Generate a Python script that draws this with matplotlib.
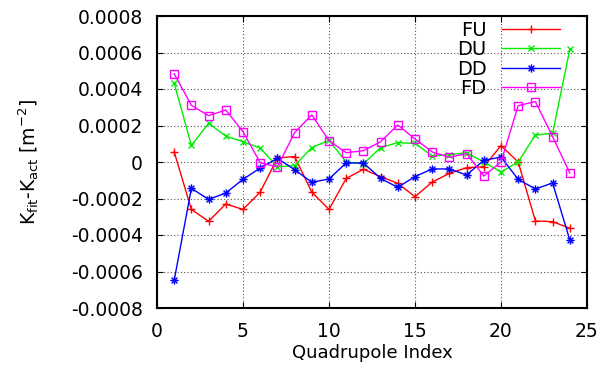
import matplotlib
matplotlib.use("Agg")
import matplotlib.pyplot as plt
from matplotlib.path import Path
import numpy as np

plt.rcParams['font.family'] = ['DejaVu Sans']

idx = list(range(1, 25))
fu = [0.000055, -0.00026, -0.000325, -0.00023, -0.00026, -0.000165, 0.000022, 0.00003,
      -0.000165, -0.00026, -0.00009, -0.00004, -0.00008, -0.000117, -0.00019, -0.00011,
      -0.000062, -0.000031, -0.000026, 0.00009, 0.0, -0.000323, -0.000327, -0.000363]
du = [0.000431, 0.000091, 0.000212, 0.000142, 0.000111, 0.000077, -0.000026, -0.00002,
      0.000079, 0.000119, 0.0, -0.00001, 0.000079, 0.000106, 0.000102, 0.000033,
      0.00004, 0.000051, 0.0, -0.000055, 0.0, 0.000148, 0.000157, 0.000617]
dd = [-0.000648, -0.000144, -0.000205, -0.00017, -0.000095, -0.000033, 0.00002, -0.000042,
      -0.000111, -0.000093, -0.000005, -0.000005, -0.00009, -0.000139, -0.00008, -0.000038,
      -0.000038, -0.000071, 0.000009, 0.000027, -0.000095, -0.000148, -0.000115, -0.000427]
fd = [0.000484, 0.00031, 0.000254, 0.000285, 0.000166, -0.000004, -0.000027, 0.000161,
      0.000258, 0.000117, 0.000051, 0.000062, 0.000111, 0.000203, 0.000126, 0.000055,
      0.000026, 0.000046, -0.000077, 0.0, 0.000309, 0.000331, 0.000139, -0.00006]

xticks = [0, 5, 10, 15, 20, 25]
yticks = [-0.0008, -0.0006, -0.0004, -0.0002, 0, 0.0002, 0.0004, 0.0006, 0.0008]
yticklabels = ['-0.0008', '-0.0006', '-0.0004', '-0.0002', '0', '0.0002', '0.0004', '0.0006', '0.0008']

# star marker: plus + cross
star = Path([(-1, 0), (1, 0), (0, -1), (0, 1), (-0.7, -0.7), (0.7, 0.7), (-0.7, 0.7), (0.7, -0.7)],
            [Path.MOVETO, Path.LINETO] * 4)

fig = plt.figure(figsize=(6.02, 3.65), dpi=100)
ax = fig.add_axes([157/602, 1 - 308/365, (587-157)/602, (308-16)/365])

ax.plot(idx, fu, color='#ff0000', marker='+', ms=6, mew=1, lw=1, label='FU')
ax.plot(idx, du, color='#00ee00', marker='x', ms=5, mew=1, lw=1, label='DU')
ax.plot(idx, dd, color='#0000ff', marker=star, ms=6, mew=1, lw=1, label='DD')
ax.plot(idx, fd, color='#ff00ff', marker='s', ms=6, mew=1, mfc='none', lw=1, label='FD')

ax.set_xlim(0, 25)
ax.set_ylim(-0.0008, 0.0008)
ax.set_xticks(xticks)
ax.set_xticklabels([str(t) for t in xticks])
ax.set_yticks(yticks)
ax.set_yticklabels(yticklabels)
ax.tick_params(axis='both', direction='in', top=True, right=True, labelsize=13.5, length=4)
ax.tick_params(axis='y', pad=10)
ax.tick_params(axis='x', pad=10)
ax.grid(True, color='#555555', linestyle=(0, (1, 2)), lw=0.8)
for s in ax.spines.values():
    s.set_linewidth(1.5)
ax.set_xlabel('Quadrupole Index', fontsize=13, labelpad=2)
ax.set_ylabel(r'K$_{\mathregular{fit}}$-K$_{\mathregular{act}}$ [m$^{\mathregular{-2}}$]', fontsize=13.5, labelpad=22)

leg = ax.legend(loc='upper right', bbox_to_anchor=(0.97, 1.03), frameon=False, fontsize=14,
                markerfirst=False, handlelength=3.0, labelspacing=0.02, borderaxespad=0.3,
                handletextpad=0.8)
for t in leg.get_texts():
    t.set_ha('right')

fig.savefig('out.png', dpi=100)
